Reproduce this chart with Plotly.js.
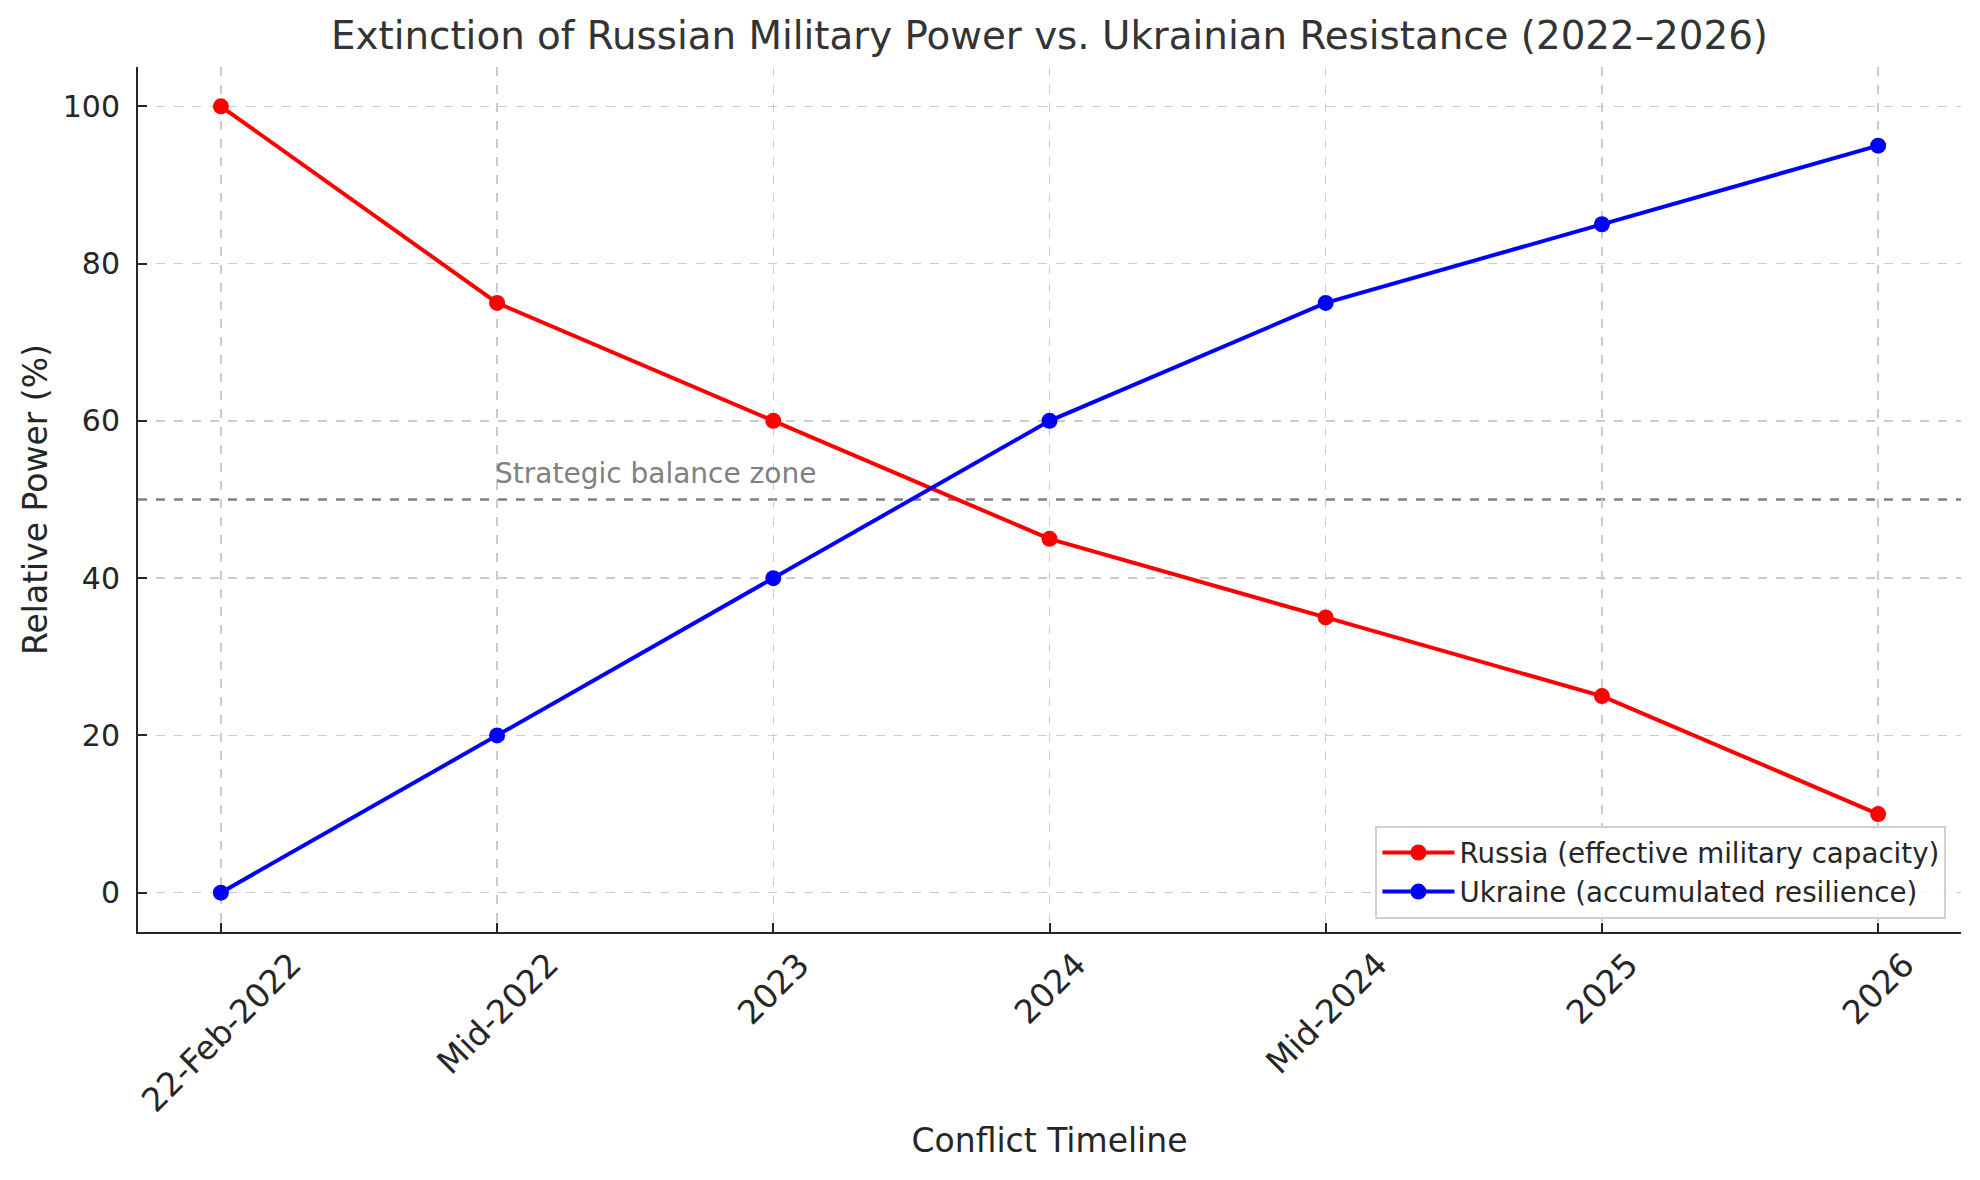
<!DOCTYPE html>
<html>
<head>
<meta charset="utf-8">
<script src="https://cdn.plot.ly/plotly-3.0.1.min.js"></script>
<style>
	body { margin: 0; background: #fff; }
	#myDiv { width: 1980px; height: 1180px; }
</style>
</head>
<body>
<div id="myDiv"></div>
<script>

// data
const timeline = ["22-Feb-2022", "Mid-2022", "2023", "2024", "Mid-2024", "2025", "2026"]
const russia = [100, 75, 60, 45, 35, 25, 10]
const ukraine = [0, 20, 40, 60, 75, 85, 95]
const yTicks = [0, 20, 40, 60, 80, 100]
const balanceLevel = 50
const balanceLabel = "Strategic balance zone"

const FONT = "DejaVu Sans, Liberation Sans, sans-serif"
const INK = "#262626"


function makeTrace(name, y, color, group) {
	return {
		x: timeline,
		y: y,
		name: name,
		legendgroup: group,
		type: 'scatter',
		mode: 'lines+markers',
		line: { color: color, width: 4 },
		marker: { color: color, size: 16 },
		cliponaxis: false
	}
}

const data = [
	makeTrace("Russia (effective military capacity)", russia, "#ff0000", "ru"),
	makeTrace("Ukraine (accumulated resilience)", ukraine, "#0000ff", "ua")
]


// rotated tick labels, centred under each tick like matplotlib does
// (x by category index so "2023" is not read as a number)
const tickLabels = timeline.map((t, i) => ({
	x: i,
	xref: 'x',
	y: 0,
	yref: 'paper',
	text: t,
	showarrow: false,
	textangle: -45,
	xanchor: 'center',
	yanchor: 'top',
	yshift: -10,
	font: { family: FONT, size: 33, color: INK }
}))

const layout = {
	width: 1980,
	height: 1180,
	margin: { l: 138, r: 19, t: 67, b: 248 },
	paper_bgcolor: '#ffffff',
	plot_bgcolor: '#ffffff',
	font: { family: FONT, color: INK },
	showlegend: true,
	title: {
		text: "Extinction of Russian Military Power vs. Ukrainian Resistance (2022–2026)",
		font: { family: FONT, size: 38.8, color: "#333333" },
		x: 0.5,
		xref: 'paper',
		xanchor: 'center',
		y: 1 - 35 / 1180,
		yanchor: 'middle'
	},
	xaxis: {
		type: 'category',
		range: [-0.3, 6.3],
		showticklabels: false,
		ticks: 'inside',
		ticklen: 9,
		tickwidth: 2,
		tickcolor: INK,
		showline: true,
		linecolor: INK,
		linewidth: 2,
		mirror: false,
		showgrid: true,
		gridcolor: '#cccccc',
		gridwidth: 1.3,
		griddash: 'dash',
		zeroline: false,
		title: {
			text: "Conflict Timeline",
			font: { family: FONT, size: 33, color: INK },
			standoff: 196
		}
	},
	yaxis: {
		range: [-5, 105],
		tickvals: yTicks,
		ticktext: yTicks.map(String),
		tickfont: { family: FONT, size: 30, color: INK },
		ticks: 'inside',
		ticklen: 9,
		tickwidth: 2,
		tickcolor: INK,
		ticklabelstandoff: 10,
		showline: true,
		linecolor: INK,
		linewidth: 2,
		mirror: false,
		showgrid: true,
		gridcolor: '#cccccc',
		gridwidth: 1.3,
		griddash: 'dash',
		zeroline: false,
		title: {
			text: "Relative Power (%)",
			font: { family: FONT, size: 33, color: INK },
			standoff: 5
		}
	},
	legend: {
		x: 0.992,
		xanchor: 'right',
		y: 0.015,
		yanchor: 'bottom',
		bgcolor: 'rgba(255,255,255,0.85)',
		bordercolor: '#d0d0d0',
		borderwidth: 2,
		font: { family: FONT, size: 27.7, color: INK },
		traceorder: 'grouped',
		tracegroupgap: 0,
		itemwidth: 72
	},
	shapes: [{
		type: 'line',
		xref: 'paper',
		x0: 0,
		x1: 1,
		yref: 'y',
		y0: balanceLevel,
		y1: balanceLevel,
		line: { color: '#808080', width: 2.5, dash: 'dash' },
		layer: 'below'
	}],
	annotations: [{
		x: 1,
		xref: 'x',
		y: balanceLevel + 2,
		yref: 'y',
		text: balanceLabel,
		showarrow: false,
		xanchor: 'left',
		yanchor: 'bottom',
		xshift: -4,
		yshift: -8,
		font: { family: FONT, size: 28, color: '#808080' }
	}].concat(tickLabels)
}


Plotly.newPlot('myDiv', data, layout, {
	displayModeBar: false,
	staticPlot: true
})

</script>
</body>
</html>
